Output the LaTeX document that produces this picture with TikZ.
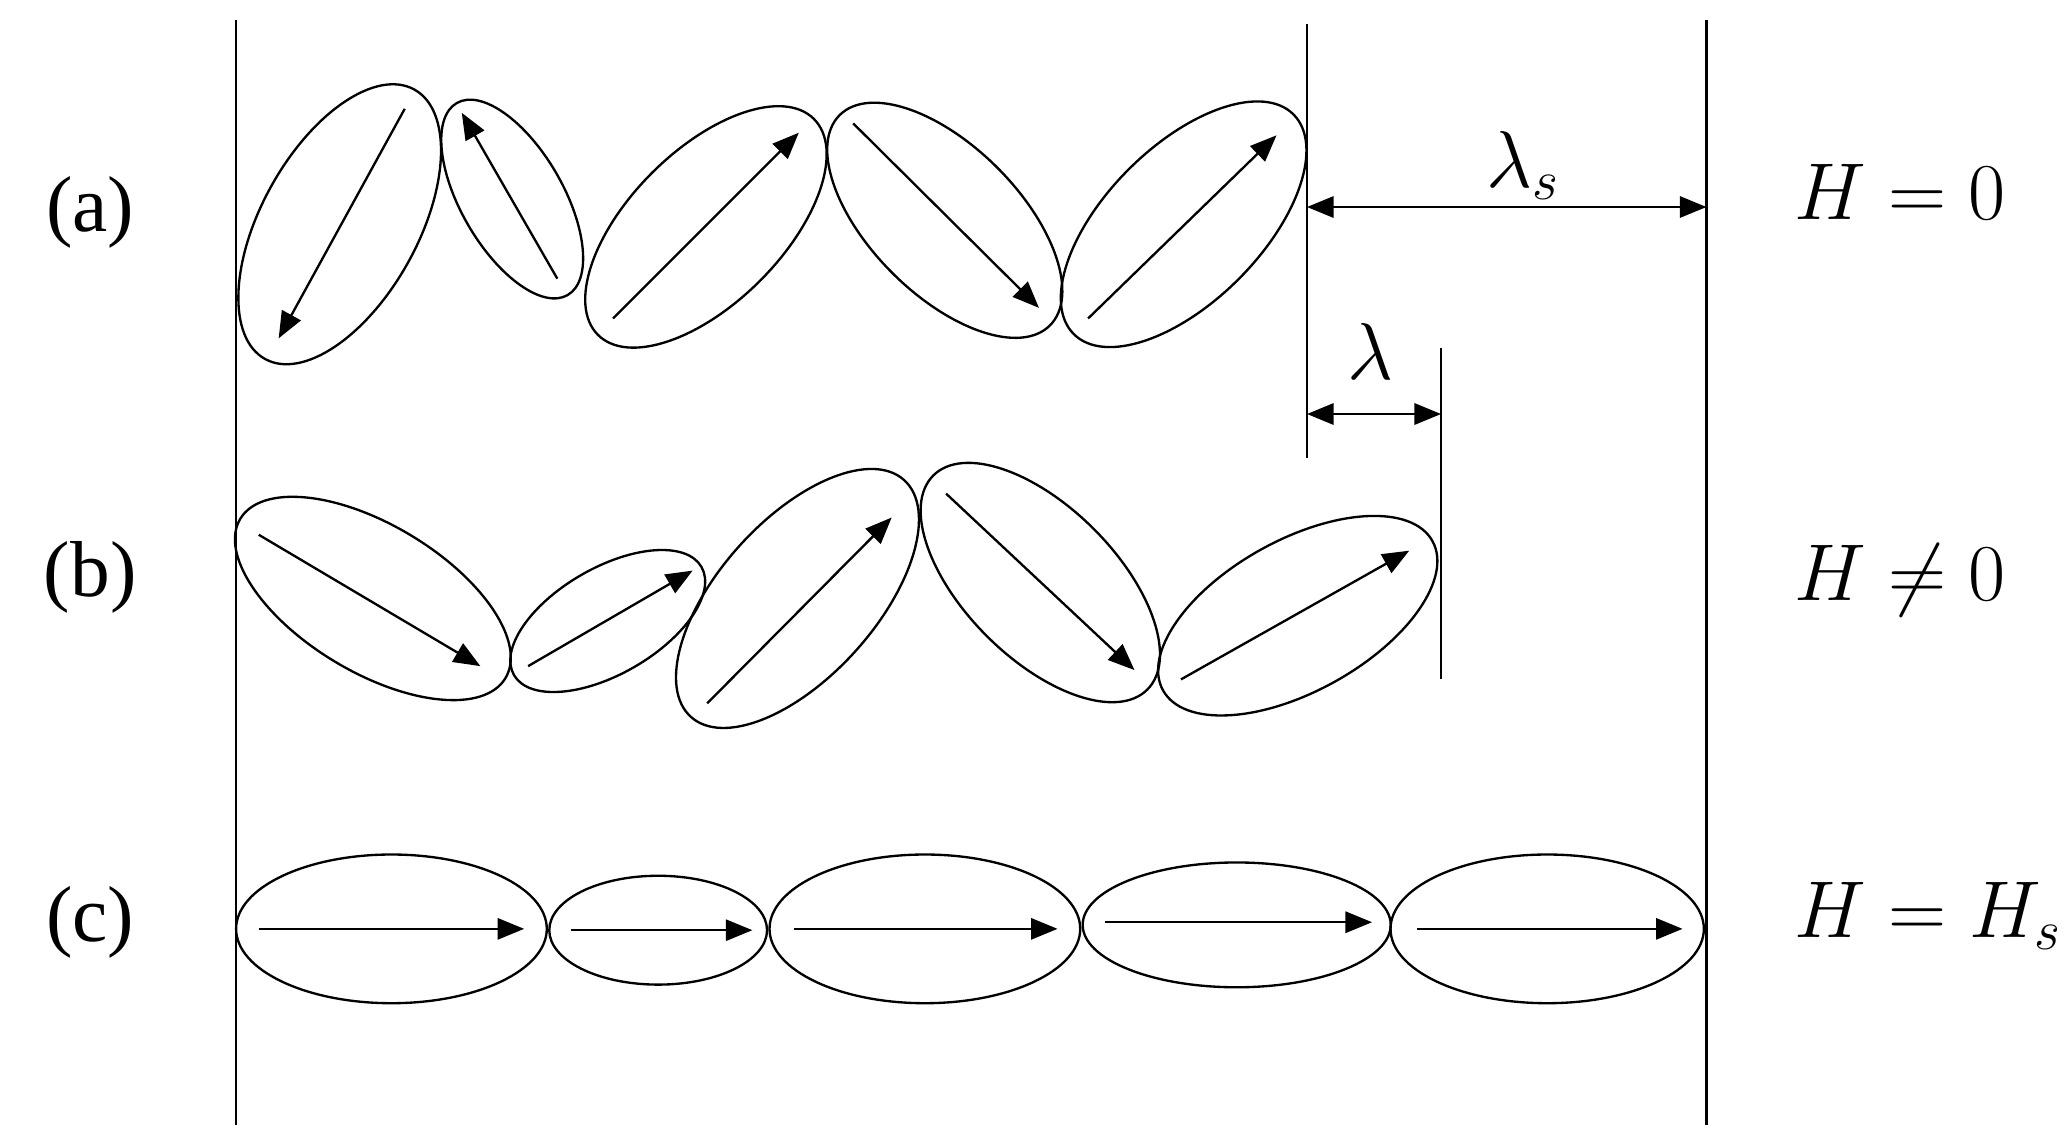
\documentclass[tikz,border=0pt]{standalone}
\usepackage{fontspec}
\setmainfont{Liberation Serif}
\usetikzlibrary{shapes.geometric,arrows.meta}
\begin{document}
\begin{tikzpicture}[x=0.01cm,y=-0.01cm,
  el/.style={ellipse,draw,inner sep=0pt,outer sep=0pt,line width=0.5pt},
  ar/.style={line width=0.5pt,-{Triangle[length=0.2cm,width=0.16cm]}},
  dar/.style={line width=0.5pt,{Triangle[length=0.2cm,width=0.16cm]}-{Triangle[length=0.2cm,width=0.16cm]}},
  ln/.style={line width=0.5pt},
  lab/.style={font=\fontsize{17}{20}\selectfont}]
\useasboundingbox (0,0) rectangle (1560,857);
% vertical lines
\draw[ln] (178,15) -- (178,848);
\draw[ln] (985,18) -- (985,345);
\draw[ln] (1286,15) -- (1286,848);
\draw[ln] (1086,262) -- (1086,512);
\coordinate (s1) at (985,156); \coordinate (s2) at (1286,156);
\draw[dar] (s1) -- (s2);
\node[lab] at (1148,125) {$\lambda_s$};
\coordinate (l1) at (985,312); \coordinate (l2) at (1086,312);
\draw[dar] (l1) -- (l2);
\node[lab] at (1033,265) {$\lambda$};
\node[lab] at (68,160) {(a)};
\node[lab] at (68,435) {(b)};
\node[lab] at (68,695) {(c)};
\node[lab,anchor=west] at (1340,145) {$H=0$};
\node[lab,anchor=west] at (1340,437) {$H\neq0$};
\node[lab,anchor=west] at (1340,690) {$H=H_s$};
% (a)
\node[el,minimum width=2.32cm,minimum height=1.18cm,rotate=61] (a1) at (256,169) {};
\draw[ar] (305,82) -- (210,255);
\node[el,minimum width=1.67cm,minimum height=0.77cm,rotate=120] (a2) at (386,150) {};
\draw[ar] (420,210) -- (348,85);
\node[el,minimum width=2.30cm,minimum height=1.15cm,rotate=45] (a3) at (532,171) {};
\draw[ar] (462,240) -- (602,100);
\node[el,minimum width=2.24cm,minimum height=1.12cm,rotate=-45] (a4) at (712,166) {};
\draw[ar] (643,93) -- (783,232);
\node[el,minimum width=2.34cm,minimum height=1.17cm,rotate=45] (a5) at (892,169) {};
\draw[ar] (820,240) -- (962,102);
% (b)
\node[el,minimum width=2.33cm,minimum height=1.11cm,rotate=-31] (b1) at (281,451) {};
\draw[ar] (195,403) -- (362,502);
\node[el,minimum width=1.63cm,minimum height=0.80cm,rotate=30] (b2) at (458,468) {};
\draw[ar] (398,502) -- (522,430);
\node[el,minimum width=2.40cm,minimum height=1.18cm,rotate=48] (b3) at (601,451) {};
\draw[ar] (533,530) -- (672,390);
\node[el,minimum width=2.28cm,minimum height=1.14cm,rotate=-45] (b4) at (784,439) {};
\draw[ar] (713,372) -- (855,505);
\node[el,minimum width=2.32cm,minimum height=1.14cm,rotate=29] (b5) at (978,464) {};
\draw[ar] (890,512) -- (1062,415);
% (c)
\node[el,minimum width=2.34cm,minimum height=1.12cm] (c1) at (295,700) {};
\draw[ar] (195,700) -- (395,700);
\node[el,minimum width=1.64cm,minimum height=0.82cm] (c2) at (496,701) {};
\draw[ar] (430,701) -- (567,701);
\node[el,minimum width=2.34cm,minimum height=1.12cm] (c3) at (697,700) {};
\draw[ar] (598,700) -- (797,700);
\node[el,minimum width=2.32cm,minimum height=0.94cm] (c4) at (932,697) {};
\draw[ar] (833,695) -- (1034,695);
\node[el,minimum width=2.36cm,minimum height=1.12cm] (c5) at (1166,700) {};
\draw[ar] (1068,700) -- (1268,700);
\end{tikzpicture}
\end{document}
